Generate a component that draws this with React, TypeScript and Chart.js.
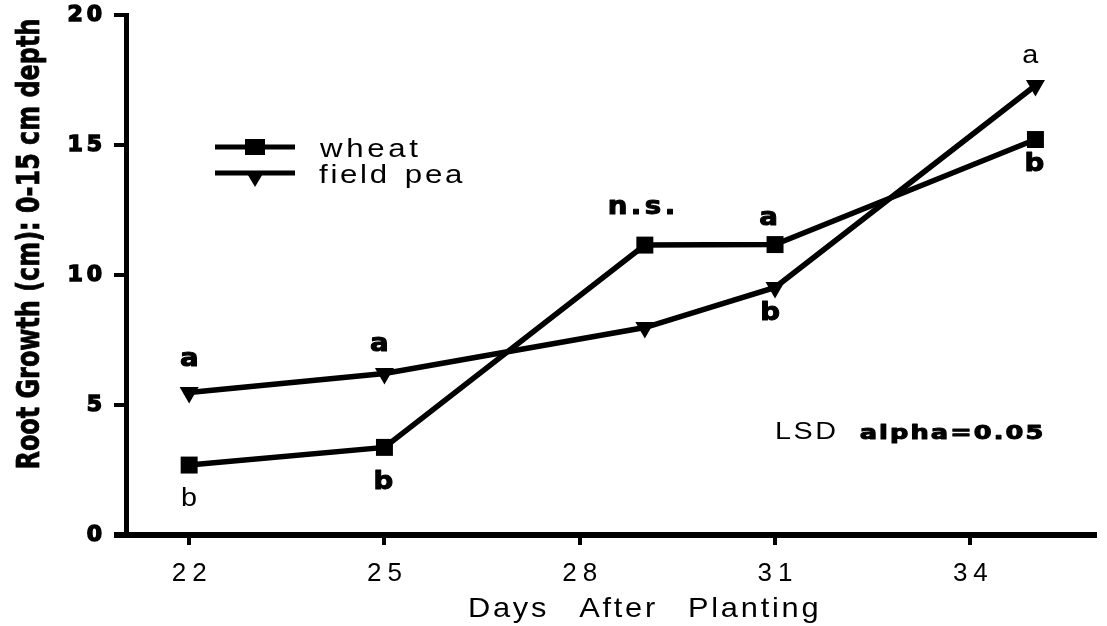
import { useEffect, useRef } from 'react';
import { Chart, registerables } from 'chart.js';

Chart.register(...registerables);

// ---------- data ----------
const days = [22, 25, 29, 31, 35];
const wheatValues = [2.69, 3.37, 11.15, 11.17, 15.21];
const fieldPeaValues = [5.48, 6.21, 7.98, 9.52, 17.29];
const seriesNames = ['wheat', 'field pea'];
const xTickValues = [22, 25, 28, 31, 34];
const yTickStep = 5;
const yMin = 0;
const yMax = 20;
const xMin = 21.03;
const xMax = 35.915;
const xAxisTitle = 'Days After Planting';
const yAxisTitle = 'Root Growth (cm): 0-15 cm depth';
const noteLabels = ['a', 'b', 'a', 'b', 'n.s.', 'a', 'b', 'a', 'b'];
const noteDays = [22, 22, 24.92, 25, 28.92, 30.9, 30.94, 34.93, 35.0];
const noteValues = [6.77, 1.5, 7.35, 2.15, 12.6, 12.2, 8.65, 18.42, 14.35];
const noteBold = [true, false, true, true, true, true, true, false, true];
const lsdLabel = 'LSD';
const alphaLabel = 'alpha=0.05';
const lsdDay = 31.0;
const alphaDay = 32.3;
const lsdValue = 3.69;

// ---------- styles ----------
const W = 1107;
const H = 626;
const BLACK = '#000';
const REG = '"Liberation Sans", Arial, sans-serif';
const BOLD = '"DejaVu Sans", "Liberation Sans", sans-serif';

type TextOpts = {
  font: string;
  sx?: number;
  width?: number;
  spacing?: number;
  wordSpacing?: number;
  stroke?: number;
};

function drawText(ctx: CanvasRenderingContext2D, text: string, x: number, y: number, o: TextOpts) {
  ctx.save();
  ctx.font = o.font;
  (ctx as any).letterSpacing = '0px';
  (ctx as any).wordSpacing = (o.wordSpacing || 0) + 'px';
  const sx = o.sx || 1;
  const n = [...text].length;
  let s = o.spacing || 0;
  if (o.width) {
    const m = ctx.measureText(text);
    const ink = m.actualBoundingBoxRight + m.actualBoundingBoxLeft;
    s = n > 1 ? (o.width / sx - ink) / (n - 1) : 0;
  }
  (ctx as any).letterSpacing = s + 'px';
  ctx.textAlign = 'left';
  ctx.textBaseline = 'alphabetic';
  ctx.fillStyle = BLACK;
  ctx.translate(x, y);
  ctx.scale(sx, 1);
  ctx.fillText(text, 0, 0);
  if (o.stroke) {
    ctx.strokeStyle = BLACK;
    ctx.lineWidth = o.stroke;
    ctx.lineJoin = 'round';
    ctx.strokeText(text, 0, 0);
  }
  ctx.restore();
}

function drawCentered(ctx: CanvasRenderingContext2D, text: string, cx: number, cy: number, font: string, spacing: number, sx: number, stroke: number) {
  ctx.save();
  ctx.font = font;
  (ctx as any).letterSpacing = spacing + 'px';
  ctx.textAlign = 'left';
  ctx.textBaseline = 'alphabetic';
  const m = ctx.measureText(text);
  const inkW = m.actualBoundingBoxRight + m.actualBoundingBoxLeft - (text.length > 1 ? spacing : 0);
  const y = cy + (m.actualBoundingBoxAscent - m.actualBoundingBoxDescent) / 2;
  ctx.translate(cx, y);
  ctx.scale(sx, 1);
  ctx.fillStyle = BLACK;
  const tx = -inkW / 2 + m.actualBoundingBoxLeft;
  ctx.fillText(text, tx, 0);
  if (stroke) {
    ctx.strokeStyle = BLACK;
    ctx.lineWidth = stroke;
    ctx.lineJoin = 'round';
    ctx.strokeText(text, tx, 0);
  }
  ctx.restore();
}

function drawSquare(ctx: CanvasRenderingContext2D, x: number, y: number, w: number, h: number) {
  ctx.fillStyle = BLACK;
  ctx.fillRect(x - w / 2, y - h / 2, w, h);
}

function drawDownTriangle(ctx: CanvasRenderingContext2D, x: number, yBase: number, w: number, h: number) {
  ctx.fillStyle = BLACK;
  ctx.beginPath();
  ctx.moveTo(x - w / 2, yBase);
  ctx.lineTo(x + w / 2, yBase);
  ctx.lineTo(x, yBase + h);
  ctx.closePath();
  ctx.fill();
}

const decorPlugin = {
  id: 'decor',
  beforeDraw(chart: any) {
    chart.ctx.letterSpacing = '6px';
  },
  afterDatasetsDraw(chart: any) {
    chart.ctx.letterSpacing = '4px';
  },
  afterDraw(chart: any) {
    const ctx: CanvasRenderingContext2D = chart.ctx;
    (ctx as any).letterSpacing = '0px';
    const xs = chart.scales.x;
    const ys = chart.scales.y;
    const { left, bottom } = chart.chartArea;

    // x axis line extends a little left of the y axis
    ctx.save();
    ctx.strokeStyle = BLACK;
    ctx.lineWidth = 6;
    ctx.beginPath();
    ctx.moveTo(114, bottom);
    ctx.lineTo(left, bottom);
    ctx.stroke();
    ctx.restore();

    // legend
    ctx.save();
    ctx.strokeStyle = BLACK;
    ctx.lineWidth = 5;
    ctx.beginPath();
    ctx.moveTo(215, 147);
    ctx.lineTo(295, 147);
    ctx.moveTo(215, 173);
    ctx.lineTo(295, 173);
    ctx.stroke();
    drawSquare(ctx, 255, 147, 20, 16);
    drawDownTriangle(ctx, 255, 171, 19, 16);
    ctx.restore();
    drawText(ctx, seriesNames[0], 320, 157, { font: `26px ${REG}`, sx: 1.2, width: 100 });
    drawText(ctx, seriesNames[1], 319, 183, { font: `26px ${REG}`, sx: 1.2, width: 144, wordSpacing: 3 });

    // significance letters
    for (let i = 0; i < noteLabels.length; i++) {
      const cx = xs.getPixelForValue(noteDays[i]);
      const cy = ys.getPixelForValue(noteValues[i]);
      if (noteBold[i]) {
        drawCentered(ctx, noteLabels[i], cx, cy, `bold 24px ${BOLD}`, noteLabels[i].length > 1 ? 3 : 0, 1.15, 1);
      } else {
        drawCentered(ctx, noteLabels[i], cx, cy, `25px ${REG}`, 0, 1.15, 0);
      }
    }

    // LSD note
    const ly = ys.getPixelForValue(lsdValue);
    drawText(ctx, lsdLabel, xs.getPixelForValue(lsdDay), ly, { font: `23px ${REG}`, sx: 1.25, width: 59 });
    drawText(ctx, alphaLabel, xs.getPixelForValue(alphaDay), ly, { font: `bold 19px ${BOLD}`, sx: 1.35, width: 182, stroke: 1 });

    // x axis title
    drawText(ctx, xAxisTitle, 468, 617, { font: `28px ${REG}`, sx: 1.1, spacing: 2.5, wordSpacing: 17 });

    // y axis title (rotated, condensed)
    ctx.save();
    ctx.font = `bold 32px ${BOLD}`;
    ctx.textAlign = 'left';
    ctx.textBaseline = 'alphabetic';
    const m = ctx.measureText(yAxisTitle);
    const ink = m.actualBoundingBoxRight + m.actualBoundingBoxLeft;
    const sx = 448 / ink;
    ctx.translate(39, 244);
    ctx.rotate(-Math.PI / 2);
    ctx.scale(sx, 1);
    ctx.fillStyle = BLACK;
    ctx.fillText(yAxisTitle, -ink / 2 + m.actualBoundingBoxLeft, 0);
    ctx.strokeStyle = BLACK;
    ctx.lineWidth = 0.8;
    ctx.strokeText(yAxisTitle, -ink / 2 + m.actualBoundingBoxLeft, 0);
    ctx.restore();
  },
};

export default function App() {
  const canvasRef = useRef<HTMLCanvasElement | null>(null);

  useEffect(() => {
    const canvas = canvasRef.current;
    if (!canvas) return;
    const chart = new Chart(canvas, {
      type: 'line',
      data: {
        datasets: [
          {
            label: seriesNames[0],
            data: days.map((d, i) => ({ x: d, y: wheatValues[i] })),
            borderColor: BLACK,
            backgroundColor: BLACK,
            borderWidth: 5.5,
            pointStyle: 'rect',
            pointRadius: 12,
            pointBorderWidth: 0,
            tension: 0,
          },
          {
            label: seriesNames[1],
            data: days.map((d, i) => ({ x: d, y: fieldPeaValues[i] })),
            borderColor: BLACK,
            backgroundColor: BLACK,
            borderWidth: 5.5,
            pointStyle: 'triangle',
            pointRotation: 180,
            pointRadius: 11,
            pointBorderWidth: 0,
            tension: 0,
          },
        ],
      },
      options: {
        responsive: false,
        animation: false,
        layout: { padding: { top: 15, left: 0, right: 0, bottom: 0 } },
        plugins: { legend: { display: false }, tooltip: { enabled: false } },
        scales: {
          x: {
            type: 'linear',
            min: xMin,
            max: xMax,
            afterBuildTicks: (s: any) => {
              s.ticks = xTickValues.map((v) => ({ value: v }));
            },
            afterFit: (s: any) => {
              s.height = 91;
              s.paddingLeft = 0;
              s.paddingRight = 0;
            },
            grid: {
              display: true,
              drawOnChartArea: false,
              drawTicks: true,
              tickLength: 10,
              tickWidth: 4,
              tickColor: BLACK,
              color: BLACK,
              lineWidth: 4,
            },
            border: { display: true, color: BLACK, width: 6 },
            ticks: {
              font: { family: '"Liberation Sans"', size: 26 },
              color: BLACK,
              padding: 13,
              labelOffset: 3,
              maxRotation: 0,
              autoSkip: false,
            },
          },
          y: {
            type: 'linear',
            min: yMin,
            max: yMax,
            afterFit: (s: any) => {
              s.width = 126;
              s.paddingTop = 0;
              s.paddingBottom = 0;
            },
            grid: {
              display: true,
              drawOnChartArea: false,
              drawTicks: true,
              tickLength: 12,
              tickWidth: 4,
              tickColor: BLACK,
              color: BLACK,
              lineWidth: 4,
            },
            border: { display: true, color: BLACK, width: 5 },
            ticks: {
              stepSize: yTickStep,
              font: { family: '"DejaVu Sans"', size: 22, weight: 'bold' },
              color: BLACK,
              textStrokeColor: BLACK,
              textStrokeWidth: 1.5,
              padding: 8,
              z: 1,
            },
          },
        },
      } as any,
      plugins: [decorPlugin],
    });
    return () => chart.destroy();
  }, []);

  return (
    <div style={{ position: 'absolute', left: 0, top: 0, width: W, height: H, background: '#fff' }}>
      <canvas ref={canvasRef} width={W} height={H} style={{ width: W, height: H, display: 'block' }} />
    </div>
  );
}
